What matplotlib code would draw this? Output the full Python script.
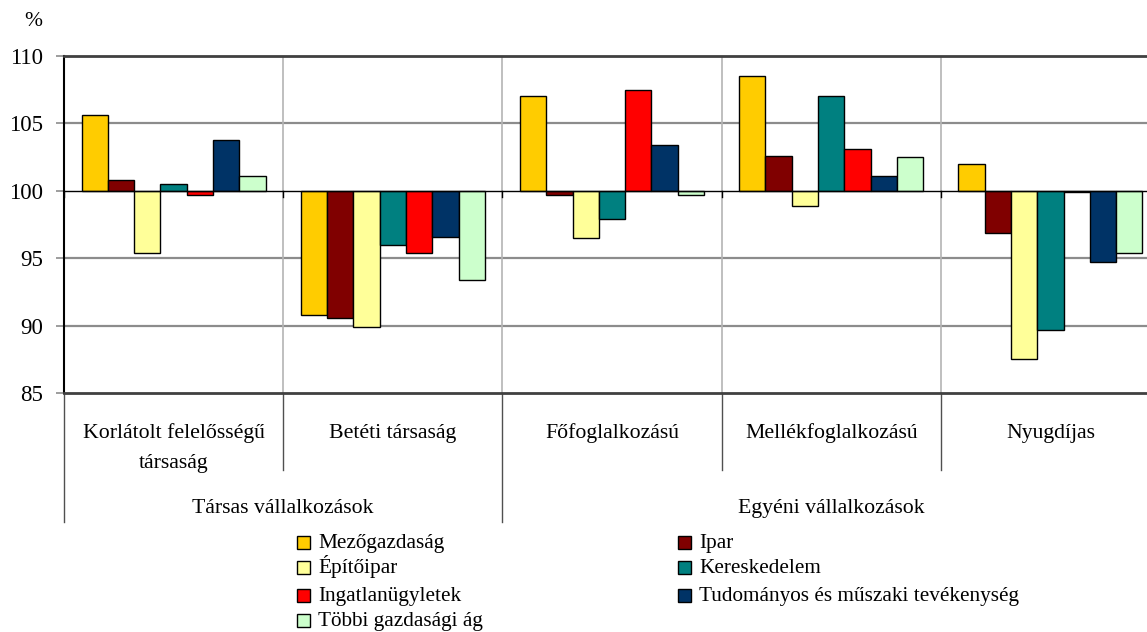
import matplotlib
matplotlib.use("Agg")
import matplotlib.pyplot as plt
from matplotlib.patches import Rectangle
import numpy as np

plt.rcParams['font.family'] = ['Liberation Serif', 'DejaVu Serif']

categories = ["Korlátolt felelősségű\ntársaság", "Betéti társaság", "Főfoglalkozású",
              "Mellékfoglalkozású", "Nyugdíjas"]
groups = ["Társas vállalkozások", "Egyéni vállalkozások"]
series_names = ["Mezőgazdaság", "Ipar", "Építőipar", "Kereskedelem",
                "Ingatlanügyletek", "Tudományos és műszaki tevékenység", "Többi gazdasági ág"]
colors = ["#FFCC00", "#800000", "#FFFF99", "#008080", "#FF0000", "#003366", "#CCFFCC"]

mezogazdasag = [105.6, 90.8, 107.0, 108.5, 102.0]
ipar = [100.8, 90.6, 99.7, 102.6, 96.9]
epitoipar = [95.4, 89.9, 96.5, 98.9, 87.5]
kereskedelem = [100.5, 96.0, 97.9, 107.0, 89.7]
ingatlan = [99.7, 95.4, 107.5, 103.1, 99.9]
tudomanyos = [103.8, 96.6, 103.4, 101.1, 94.7]
tobbi = [101.1, 93.4, 99.7, 102.5, 95.4]
series = [mezogazdasag, ipar, epitoipar, kereskedelem, ingatlan, tudomanyos, tobbi]
yticks = [85, 90, 95, 100, 105, 110]

W, H = 1147, 632
fig = plt.figure(figsize=(W / 100, H / 100), dpi=100)
ax_left, ax_right, ax_top, ax_bottom = 64, 1160, 56, 393
ax = fig.add_axes([ax_left / W, 1 - ax_bottom / H, (ax_right - ax_left) / W, (ax_bottom - ax_top) / H])
ax.set_xlim(0, 5)
ax.set_ylim(85, 110)

bw = 0.12
x = np.arange(len(categories)) + 0.5
for j, (vals, col, name) in enumerate(zip(series, colors, series_names)):
    v = np.array(vals)
    ax.bar(x + (j - 3) * bw, v - 100, bw, bottom=100, color=col,
           edgecolor="black", linewidth=1.0, zorder=3, label=name)

# grid
for yv in [90, 95, 105]:
    ax.axhline(yv, color="#8c8c8c", lw=1.6, zorder=1)
for xv in [1, 2, 3, 4]:
    ax.axvline(xv, color="#b4b4b4", lw=1.2, zorder=1)
ax.axhline(100, color="black", lw=1.0, zorder=4)
for xv in range(0, 6):
    ax.plot([xv, xv], [100, 99.55], color="black", lw=1.0, zorder=4, clip_on=False)

for s in ["top", "bottom"]:
    ax.spines[s].set_color("#404040")
    ax.spines[s].set_linewidth(2.0)
ax.spines["left"].set_color("black")
ax.spines["left"].set_linewidth(1.5)
ax.spines["right"].set_visible(False)

ax.set_yticks(yticks)
ax.set_yticklabels([str(t) for t in yticks], fontsize=16.5)
ax.tick_params(axis="y", length=6, color="#8c8c8c", width=1.2, pad=9)
ax.set_xticks([])

def ay(ypx):
    return (ax_bottom - ypx) / (ax_bottom - ax_top)

trans = ax.get_xaxis_transform()
for xv, yend in [(0, 522), (1, 470), (2, 522), (3, 470), (4, 470)]:
    ax.plot([xv, xv], [0, ay(yend)], transform=trans, color="#505050", lw=1.0, clip_on=False)

for xi, cat in zip(x, categories):
    for k, line in enumerate(cat.split("\n")):
        ax.text(xi, ay(438 + 30 * k), line, transform=trans, ha="center", va="baseline",
                fontsize=15.7)
for gx, g in zip([1.0, 3.5], groups):
    ax.text(gx, ay(513), g, transform=trans, ha="center", va="baseline", fontsize=15.7)

fig.text(33 / W, 1 - 22 / H, "%", ha="center", va="center", fontsize=15.5)

# legend (two columns, rows aligned)
row_y = [542, 567, 595, 620]
col_x = [297, 678]
order = [(0, 0, 0), (1, 1, 0), (2, 0, 1), (3, 1, 1), (4, 0, 2), (5, 1, 2), (6, 0, 3)]
sq = 13
for idx, c, r in order:
    px, py = col_x[c], row_y[r]
    fig.add_artist(Rectangle((px / W, 1 - (py + sq / 2) / H), sq / W, sq / H,
                             transform=fig.transFigure, facecolor=colors[idx],
                             edgecolor="black", linewidth=1.0))
    fig.text((px + 21) / W, 1 - (py + 6) / H, series_names[idx], ha="left",
             va="baseline", fontsize=15.3)

fig.savefig("out.png", dpi=100)
